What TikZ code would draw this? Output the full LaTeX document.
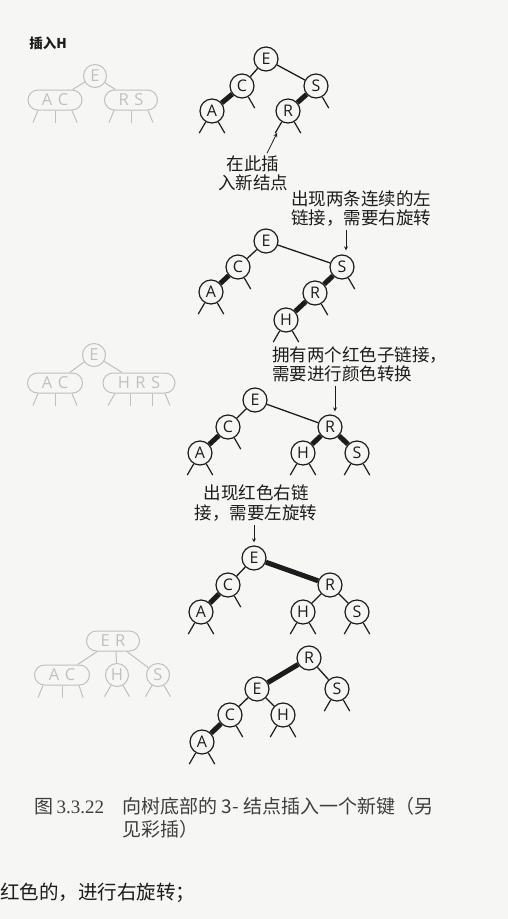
\documentclass[tikz,border=0pt]{standalone}
\usepackage{fontspec}
\usepackage{xcolor}
\setmainfont{Liberation Serif}
\newfontfamily\cjk{Noto Sans CJK SC}
\newfontfamily\keyfont{Open Sans}
\usetikzlibrary{positioning}
\definecolor{paper}{RGB}{246,246,244}
\definecolor{ink}{RGB}{28,28,28}
\definecolor{faint}{RGB}{192,192,192}

\begin{document}
\begin{tikzpicture}[x=1pt, y=1pt, >=stealth, thick,
    key/.style={circle, draw=ink, line width=1.2pt, minimum size=24pt, inner sep=0pt, text=ink, font=\keyfont\fontsize{16}{16}\selectfont},
    oldkey/.style={circle, draw=faint, line width=1pt, minimum size=23pt, inner sep=0pt, text=faint, font=\keyfont\fontsize{16.5}{16.5}\selectfont},
    oldpair/.style={rectangle, rounded corners=10pt, draw=faint, line width=1pt, minimum height=20pt, inner sep=0pt, text=faint, font=\keyfont\fontsize{16.5}{16.5}\selectfont},
    note/.style={font=\cjk\fontsize{17.5}{19.5}\selectfont, text=ink, inner sep=0pt},
    blk/.style={draw=ink, line width=1.3pt},
    redlink/.style={draw=ink, line width=5pt},
    oldlink/.style={draw=faint, line width=1pt},
    stub/.style={draw=ink, line width=1.2pt},
    oldstub/.style={draw=faint, line width=1pt},
    pointer/.style={->, draw=ink, line width=0.8pt},
  ]
  \fill[paper] (0,0) rectangle (508,-919);
  \useasboundingbox (0,0) rectangle (508,-919);

  % title
  \node [font=\cjk\bfseries\fontsize{13.5}{13.5}\selectfont, text=ink](title) at (48,-43){插入H};

  % faded 2-3 trees on the left
  \node [oldkey](ge1) at (95,-76){E};
  \node [oldpair, minimum width=54pt](gac1) at (55,-100){A\,\,C};
  \node [oldpair, minimum width=53pt](grs1) at (131,-100){R\,\,S};
  \path (ge1) edge[oldlink] (gac1) (ge1) edge[oldlink] (grs1);
  \foreach \n in {gac1,grs1}
    \foreach \a/\b in {-17/-22, 0/0, 17/22}
      \draw[oldstub] ([xshift=\a pt]\n.south) -- ([xshift=\b pt, yshift=-12pt]\n.south);

  \node [oldkey](ge2) at (94,-355){E};
  \node [oldpair, minimum width=55pt](gac2) at (55,-383){A\,\,C};
  \node [oldpair, minimum width=72pt](ghrs2) at (139,-383){H\,\,R\,\,S};
  \path (ge2) edge[oldlink] (gac2) (ge2) edge[oldlink] (ghrs2);
  \foreach \a/\b in {-17/-22, 0/0, 17/22}
    \draw[oldstub] ([xshift=\a pt]gac2.south) -- ([xshift=\b pt, yshift=-12pt]gac2.south);
  \foreach \a/\b in {-24/-31, -9/-9, 13/13, 26/31}
    \draw[oldstub] ([xshift=\a pt]ghrs2.south) -- ([xshift=\b pt, yshift=-12pt]ghrs2.south);

  \node [oldpair, minimum width=53pt](ger3) at (113,-641){E\,\,R};
  \node [oldpair, minimum width=55pt](gac3) at (62,-675){A\,\,C};
  \node [oldkey](gh3) at (117,-675){H};
  \node [oldkey](gs3) at (158,-675){S};
  \path (ger3) edge[oldlink] (gac3) ([xshift=3pt]ger3.south) edge[oldlink] (gh3) (ger3) edge[oldlink] (gs3);
  \foreach \a/\b in {-19/-24, 0/0, 17/21}
    \draw[oldstub] ([xshift=\a pt]gac3.south) -- ([xshift=\b pt, yshift=-12pt]gac3.south);
  \foreach \n in {gh3,gs3}
    \draw[oldstub] (\n.240) -- +(240:13) (\n.300) -- +(300:13);

  % step 1: insert H at the bottom
  \node [key](e1) at (266,-59){E};
  \node [key](c1) at (242,-86){C};
  \node [key](s1) at (316,-86){S};
  \node [key](a1) at (212,-111){A};
  \node [key](r1) at (288,-111){R};
  \path (e1) edge[blk] (c1) (e1) edge[blk] (s1)
        (c1) edge[redlink] (a1) (s1) edge[redlink] (r1);

  \node [note, align=center](here) at (253,-173.5){在此插\\入新结点};
  \coordinate (newspot) at (277,-133);
  \draw[pointer] ([xshift=14pt,yshift=2pt]here.north) -- (newspot);

  % step 2: two left links in a row
  \node [note, align=left](twoleft) at (361,-208.5){出现两条连续的左\\链接，需要右旋转};
  \node [key](e2) at (266,-241){E};
  \node [key](c2) at (238,-267){C};
  \node [key](a2) at (211,-292){A};
  \node [key](s2) at (342,-267){S};
  \node [key](r2) at (315,-293){R};
  \node [key](h2) at (286,-320){H};
  \path (e2) edge[blk] (c2) (e2) edge[blk] (s2)
        (c2) edge[redlink] (a2) (s2) edge[redlink] (r2) (r2) edge[redlink] (h2);
  \draw[pointer] ([xshift=4pt]s2.north |- twoleft.south) ++(0,-3) -- ([xshift=4pt,yshift=4pt]s2.north);

  % step 3: two red children
  \node [note, align=left, anchor=north west](twored) at (272,-346){拥有两个红色子链接，\\需要进行颜色转换};
  \node [key](e3) at (255,-400){E};
  \node [key](c3) at (228,-427){C};
  \node [key](a3) at (200,-453){A};
  \node [key](r3) at (330,-427){R};
  \node [key](h3) at (303,-453){H};
  \node [key](s3) at (357,-453){S};
  \path (e3) edge[blk] (c3) (e3) edge[blk] (r3)
        (c3) edge[redlink] (a3) (r3) edge[redlink] (h3) (r3) edge[redlink] (s3);
  \draw[pointer] ([xshift=5pt]r3.north |- twored.south) ++(0,-3) -- ([xshift=5pt,yshift=3pt]r3.north);

  % step 4: red right link
  \node [note, align=center](rightred) at (256,-503){出现红色右链\\接，需要左旋转};
  \node [key](e4) at (254,-558){E};
  \node [key](c4) at (228,-585){C};
  \node [key](a4) at (201,-612){A};
  \node [key](r4) at (330,-585){R};
  \node [key](h4) at (303,-612){H};
  \node [key](s4) at (357,-612){S};
  \path (e4) edge[redlink] (r4) (e4) edge[blk] (c4)
        (c4) edge[redlink] (a4) (r4) edge[blk] (h4) (r4) edge[blk] (s4);
  \draw[pointer] (e4.north |- rightred.south) ++(0,-4) -- ([yshift=3pt]e4.north);

  % step 5: result
  \node [key](r5) at (309,-658){R};
  \node [key](e5) at (257,-689){E};
  \node [key](s5) at (337,-689){S};
  \node [key](c5) at (230,-715){C};
  \node [key](h5) at (283,-715){H};
  \node [key](a5) at (202,-742){A};
  \path (r5) edge[redlink] (e5) (r5) edge[blk] (s5)
        (e5) edge[blk] (c5) (e5) edge[blk] (h5) (c5) edge[redlink] (a5);

  % null links
  \foreach \n in {a1,r1,a2,h2,a3,h3,s3,a4,h4,s4,a5,h5,s5}
    \draw[stub] (\n.240) -- +(240:13) (\n.300) -- +(300:13);
  \foreach \n in {c1,s1,c2,s2,r2,c3,c4,c5}
    \draw[stub] (\n.300) -- +(300:13);

  % caption
  \node [anchor=west, text=ink!85, font=\fontsize{19}{19}\selectfont, inner sep=0pt](fig) at (34,-807){{\cjk 图}\,3.3.22};
  \node [anchor=north west, align=left, text=ink!85, font=\cjk\fontsize{19}{23}\selectfont, inner sep=0pt](cap) at (122,-797){向树底部的 3- 结点插入一个新键（另\\见彩插）};
  \node [anchor=west, text=ink, font=\cjk\fontsize{19.5}{19.5}\selectfont, inner sep=0pt](tail) at (0,-893){红色的，进行右旋转；};
\end{tikzpicture}
\end{document}
